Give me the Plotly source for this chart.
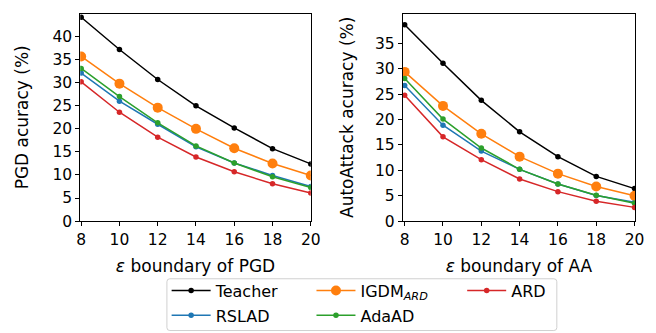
import plotly.graph_objects as go

eps = [8, 10, 12, 14, 16, 18, 20]

pgd_teacher = [44.2, 37.2, 30.7, 25.0, 20.2, 15.7, 12.4]
pgd_igdm = [35.7, 29.8, 24.6, 20.0, 15.8, 12.5, 9.9]
pgd_rslad = [32.1, 26.0, 21.0, 16.1, 12.6, 9.9, 7.5]
pgd_adaad = [33.1, 27.0, 21.3, 16.3, 12.6, 9.6, 7.3]
pgd_ard = [30.2, 23.6, 18.2, 13.9, 10.7, 8.1, 6.1]

aa_teacher = [38.7, 31.1, 23.8, 17.6, 12.7, 8.8, 6.4]
aa_igdm = [29.4, 22.7, 17.2, 12.7, 9.35, 6.8, 5.0]
aa_rslad = [26.7, 18.9, 13.8, 10.2, 7.3, 5.05, 3.7]
aa_adaad = [28.1, 20.1, 14.4, 10.2, 7.3, 5.1, 3.5]
aa_ard = [24.8, 16.6, 12.1, 8.3, 5.8, 3.9, 2.7]

names = ["Teacher", "RSLAD", "IGDM<sub><i>ARD</i></sub>", "AdaAD", "ARD"]
colors = ["#000000", "#1f77b4", "#ff7f0e", "#2ca02c", "#d62728"]
msizes = [5.5, 5.5, 10, 5.5, 5.5]
legends = ["legend", "legend", "legend2", "legend2", "legend3"]

pgd = [pgd_teacher, pgd_rslad, pgd_igdm, pgd_adaad, pgd_ard]
aa = [aa_teacher, aa_rslad, aa_igdm, aa_adaad, aa_ard]

W, H = 656, 333

fig = go.Figure()
for i in range(5):
    for data, xa, ya, show in [(pgd[i], "x", "y", True), (aa[i], "x2", "y2", False)]:
        fig.add_trace(go.Scatter(
            x=eps, y=data, xaxis=xa, yaxis=ya, name=names[i],
            mode="lines+markers",
            line=dict(color=colors[i], width=1.5),
            marker=dict(color=colors[i], size=msizes[i]),
            showlegend=show, legend=legends[i], legendgroup="g%d" % i,
        ))

tick_font = dict(family="DejaVu Sans", size=15.5, color="#000000")
label_font = dict(family="DejaVu Sans", size=17, color="#000000")
leg_font = dict(family="DejaVu Sans", size=16, color="#000000")
axis_common = dict(
    showline=True, linecolor="#000000", linewidth=1, mirror=True,
    ticks="outside", ticklen=4, tickwidth=1, tickcolor="#000000",
    showgrid=False, zeroline=False, tickfont=tick_font,
)


def leg(x_px, y_px):
    return dict(
        orientation="v", x=x_px / W, xanchor="left", y=1 - y_px / H, yanchor="top",
        bgcolor="rgba(0,0,0,0)", borderwidth=0, font=leg_font,
        itemwidth=39, tracegroupgap=1, traceorder="grouped",
    )


# legend frame (rounded)
x0, x1, y0, y1 = 158.3 / W, 556.7 / W, 1 - 331.5 / H, 1 - 278.3 / H
rx, ry = 3 / W, 3 / H
path = (f"M{x0+rx},{y1} L{x1-rx},{y1} Q{x1},{y1} {x1},{y1-ry} L{x1},{y0+ry} "
        f"Q{x1},{y0} {x1-rx},{y0} L{x0+rx},{y0} Q{x0},{y0} {x0},{y0+ry} "
        f"L{x0},{y1-ry} Q{x0},{y1} {x0+rx},{y1} Z")

fig.update_layout(
    width=W, height=H,
    margin=dict(l=0, r=0, t=0, b=0),
    paper_bgcolor="white", plot_bgcolor="white",
    font=tick_font,
    showlegend=True,
    xaxis=dict(domain=[69.7 / W, 305.3 / W], range=[7.95, 20.0], tickvals=eps,
               title=dict(text="<i>ε</i> boundary of PGD", font=label_font, standoff=12), anchor="y", **axis_common),
    yaxis=dict(domain=[1 - 219 / H, 1 - 5.7 / H], range=[0, 45], tickvals=list(range(0, 45, 5)),
               title=dict(text="PGD acuracy (%)", font=label_font, standoff=19), anchor="x", **axis_common),
    xaxis2=dict(domain=[399.3 / W, 636.7 / W], range=[7.9, 20.03], tickvals=eps,
                title=dict(text="<i>ε</i> boundary of AA", font=label_font, standoff=12), anchor="y2", **axis_common),
    yaxis2=dict(domain=[1 - 219 / H, 1 - 5.7 / H], range=[0, 40.9], tickvals=list(range(0, 40, 5)),
                title=dict(text="AutoAttack acuracy (%)", font=label_font, standoff=16), anchor="x2", **axis_common),
    legend=leg(158, 273),
    legend2=leg(306, 273),
    legend3=leg(460, 273),
    shapes=[dict(type="path", path=path, xref="paper", yref="paper",
                 line=dict(color="#d0d0d0", width=1), fillcolor="rgba(255,255,255,0.8)", layer="below")],
)

fig.write_html("out.html")
